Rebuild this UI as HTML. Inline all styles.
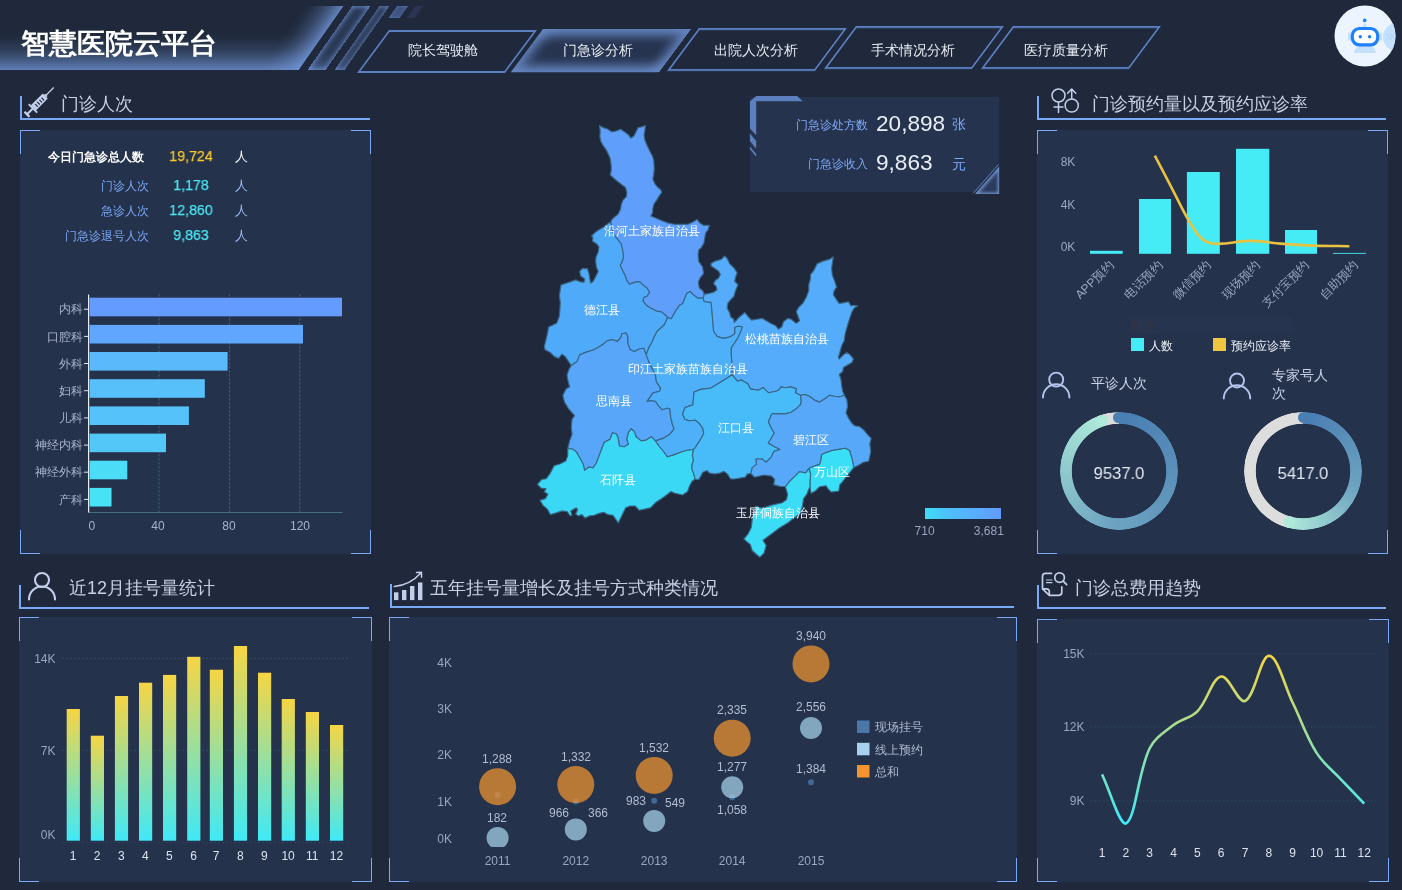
<!DOCTYPE html>
<html lang="zh"><head><meta charset="utf-8"><title>智慧医院云平台</title>
<style>
*{box-sizing:border-box;margin:0;padding:0}
html,body{width:1402px;height:890px;overflow:hidden;background:#1f293b}
body{position:relative;font-family:"Liberation Sans",sans-serif;color:#c9d1e4}
.abs{position:absolute}
.hbar{position:absolute;left:-60px;top:6px;width:381px;height:64px;transform:skewX(-35.1deg);
 background:linear-gradient(to top,rgba(110,146,212,.82) 0,rgba(110,146,212,.47) 10px,rgba(110,146,212,.2) 20px,rgba(110,146,212,.05) 30px,rgba(110,146,212,0) 36px),
 linear-gradient(to left,rgba(110,146,212,.86) 0,rgba(110,146,212,.55) 9px,rgba(110,146,212,.26) 20px,rgba(110,146,212,.07) 31px,rgba(110,146,212,0) 40px)}
.hstripe{position:absolute;top:6px;height:64px;transform:skewX(-35.1deg)}
.title{position:absolute;left:21px;top:23.5px;font-size:28px;font-weight:bold;color:#fff;letter-spacing:0px;line-height:40px;white-space:nowrap}
.tab{position:absolute;width:148px;height:43px;transform:skewX(-36.6deg);border:2px solid #5b80c4}
.tab.on{border:none;box-shadow:inset 0 0 12px 6px rgba(108,142,206,.95);background:#273450}
.tabt{position:absolute;width:148px;height:43px;line-height:43px;text-align:center;font-size:14px;color:#e6ebf3;white-space:nowrap}
.stitle{position:absolute;height:24px;border-left:2px solid #7aa9f7;border-bottom:2px solid #7aa9f7}
.stitle span{position:absolute;top:-4px;font-size:18px;line-height:24px;color:#c6cfe4;white-space:nowrap}
.panel{position:absolute;background:
 linear-gradient(#7aa9f7,#7aa9f7) left top/20px 1.2px no-repeat,linear-gradient(#7aa9f7,#7aa9f7) left top/1.2px 24px no-repeat,
 linear-gradient(#7aa9f7,#7aa9f7) right top/20px 1.2px no-repeat,linear-gradient(#7aa9f7,#7aa9f7) right top/1.2px 24px no-repeat,
 linear-gradient(#7aa9f7,#7aa9f7) left bottom/20px 1.2px no-repeat,linear-gradient(#7aa9f7,#7aa9f7) left bottom/1.2px 24px no-repeat,
 linear-gradient(#7aa9f7,#7aa9f7) right bottom/20px 1.2px no-repeat,linear-gradient(#7aa9f7,#7aa9f7) right bottom/1.2px 24px no-repeat,
 #24324c}
.kv{position:absolute;white-space:nowrap;font-size:12px;line-height:16px}
svg text{font-family:"Liberation Sans",sans-serif}
.title,.tabt,.stitle span,.kv,.gs{will-change:transform}
</style></head>
<body>
<div class="hbar"></div>
<div class="hstripe" style="left:330.3px;width:18.2px;box-shadow:inset 0 0 5px 1px rgba(112,148,214,.9),inset 0 -14px 14px -8px rgba(112,148,214,.45);background:rgba(70,95,145,.28)"></div>
<div class="hstripe" style="left:357px;width:10px;box-shadow:inset 0 0 4px 1px rgba(112,148,214,.7),inset 0 -14px 14px -8px rgba(112,148,214,.35);background:rgba(70,95,145,.22)"></div>
<div class="hstripe" style="left:392.5px;width:10.5px;height:11.5px;background:#3f5380;box-shadow:inset 0 0 3px rgba(112,148,214,.6)"></div>
<div class="hstripe" style="left:410.5px;width:7.5px;height:11.5px;background:#2a3651"></div>
<div class="title">智慧医院云平台</div>
<div class="tab" style="left:372.7px;top:29.5px"></div>
<div class="tabt" style="left:368.7px;top:28.9px">院长驾驶舱</div>
<div class="tab on" style="left:526.5px;top:29.0px"></div>
<div class="tabt" style="left:524.3px;top:28.9px">门急诊分析</div>
<div class="tab" style="left:682.7px;top:28.2px"></div>
<div class="tabt" style="left:681.9px;top:28.9px">出院人次分析</div>
<div class="tab" style="left:840.0px;top:26.4px"></div>
<div class="tabt" style="left:839.2px;top:28.9px">手术情况分析</div>
<div class="tab" style="left:996.5px;top:26.4px"></div>
<div class="tabt" style="left:991.9px;top:28.9px">医疗质量分析</div>
<svg class="abs" style="left:1330px;top:0" width="72" height="72" viewBox="1330 0 72 72">
<defs><clipPath id="rc"><circle cx="1365" cy="36" r="30.5"/></clipPath></defs>
<circle cx="1365" cy="36" r="30.5" fill="#ecf5ff"/>
<circle cx="1397" cy="37" r="14" fill="#c3e0fd" clip-path="url(#rc)"/>
<path d="M1386.5,33.5l2.8,3.2-2.8,3.2M1389.8,33.5l2.8,3.2-2.8,3.2" fill="none" stroke="#a9d0fb" stroke-width="1"/>
<path d="M1354,53c0.5-4 3-7 6-7h10c3,0 5.5,3 6,7z" fill="#c3e0fd"/>
<rect x="1347.8" y="32.5" width="4" height="8" rx="1.5" fill="#c3e0fd"/><rect x="1378.2" y="32.5" width="4" height="8" rx="1.5" fill="#c3e0fd"/>
<path d="M1362.5,27l1.5-4h1.4l1.5,4z" fill="#c3e0fd"/>
<rect x="1352.3" y="28.5" width="25.4" height="16.3" rx="7" fill="#fff" stroke="#1e80ff" stroke-width="3.2"/>
<circle cx="1360.3" cy="36.7" r="1.7" fill="#1e80ff"/><circle cx="1369.6" cy="36.7" r="1.7" fill="#1e80ff"/>
<circle cx="1364.7" cy="20.4" r="1.8" fill="#1e80ff"/>
</svg>
<div class="stitle" style="left:20px;top:96px;width:349.5px"><span style="left:39px;top:-4px">门诊人次</span></div>
<div class="stitle" style="left:1037px;top:96px;width:349px"><span style="left:52.5px;top:-4px">门诊预约量以及预约应诊率</span></div>
<div class="stitle" style="left:19px;top:585px;width:350px"><span style="left:48px;top:-8.7px">近12月挂号量统计</span></div>
<div class="stitle" style="left:390px;top:584px;width:624px"><span style="left:38px;top:-8.5px">五年挂号量增长及挂号方式种类情况</span></div>
<div class="stitle" style="left:1037px;top:585px;width:349px"><span style="left:35.5px;top:-8.7px">门诊总费用趋势</span></div>
<div class="panel" style="left:20px;top:130px;width:351.2px;height:424px"></div>
<div class="panel" style="left:1037px;top:130px;width:351.2px;height:424px"></div>
<div class="panel" style="left:19px;top:617.4px;width:353px;height:264.6px"></div>
<div class="panel" style="left:389px;top:617px;width:628px;height:265px"></div>
<div class="panel" style="left:1037px;top:619px;width:352px;height:263px"></div>
<div class="abs" style="left:750px;top:96.6px;width:249px;height:95.6px;background:#25334e"></div>
<div class="kv" style="right:1258px;top:148.5px;color:#fff;font-weight:bold;">今日门急诊总人数</div>
<div class="kv" style="left:141px;width:100px;text-align:center;top:148px;color:#fac92c;font-size:15.2px;transform:scaleX(.936);-webkit-text-stroke:.25px #fac92c">19,724</div>
<div class="kv" style="left:235px;top:148.5px;color:#fff;font-size:12.5px">人</div>
<div class="kv" style="right:1253px;top:177.5px;color:#79a7f6;">门诊人次</div>
<div class="kv" style="left:141px;width:100px;text-align:center;top:177px;color:#4be6f2;font-size:15.2px;transform:scaleX(.936);-webkit-text-stroke:.25px #4be6f2">1,178</div>
<div class="kv" style="left:235px;top:177.5px;color:#9dbdf6;font-size:12.5px">人</div>
<div class="kv" style="right:1253px;top:202.5px;color:#79a7f6;">急诊人次</div>
<div class="kv" style="left:141px;width:100px;text-align:center;top:202px;color:#4be6f2;font-size:15.2px;transform:scaleX(.936);-webkit-text-stroke:.25px #4be6f2">12,860</div>
<div class="kv" style="left:235px;top:202.5px;color:#9dbdf6;font-size:12.5px">人</div>
<div class="kv" style="right:1253px;top:227.5px;color:#79a7f6;">门急诊退号人次</div>
<div class="kv" style="left:141px;width:100px;text-align:center;top:227px;color:#4be6f2;font-size:15.2px;transform:scaleX(.936);-webkit-text-stroke:.25px #4be6f2">9,863</div>
<div class="kv" style="left:235px;top:227.5px;color:#9dbdf6;font-size:12.5px">人</div>
<svg class="abs" style="left:0;top:0" width="1402" height="890" viewBox="0 0 1402 890">
<defs>
<linearGradient id="gbar" x1="0" y1="0" x2="0" y2="1"><stop offset="0" stop-color="#f6d543"/><stop offset="1" stop-color="#3fe9f7"/></linearGradient>
<linearGradient id="gline" gradientUnits="userSpaceOnUse" x1="0" y1="655" x2="0" y2="824"><stop offset="0" stop-color="#f6d543"/><stop offset="1" stop-color="#3fe9f7"/></linearGradient>
<linearGradient id="gleg" x1="0" y1="0" x2="1" y2="0"><stop offset="0" stop-color="#3ddef6"/><stop offset="0.3" stop-color="#4cc0f9"/><stop offset="1" stop-color="#639bff"/></linearGradient>
</defs>
<g transform="translate(39.7,101.6) rotate(45)" fill="#c3cfea" stroke="none"><rect x="-0.7" y="-19.8" width="1.4" height="11"/><rect x="-1.6" y="-9.6" width="3.2" height="2"/><rect x="-3.6" y="-8" width="7.2" height="17" rx="0.8"/><rect x="-6" y="8.6" width="12" height="1.9"/><rect x="-1" y="10" width="2" height="7.5"/><rect x="-3.6" y="16.8" width="7.2" height="2.3" rx="0.6"/><g fill="#1f293b"><rect x="-1.4" y="-4.6" width="3.6" height="1.1"/><rect x="-1.4" y="-1.6" width="3.6" height="1.1"/><rect x="-1.4" y="1.4" width="3.6" height="1.1"/><rect x="-1.4" y="4.4" width="3.6" height="1.1"/></g></g>
<g fill="none" stroke="#c3cfea" stroke-width="1.5" stroke-linecap="round" stroke-linejoin="round"><circle cx="1058.5" cy="95.5" r="6.5"/><path d="M1058.5,102v10.5M1054,107h9"/><circle cx="1071.7" cy="105.5" r="6.6"/><path d="M1071.7,98.9v-9.6M1067.6,93.3l4.1-4.2 4.1,4.2"/></g>
<g fill="none" stroke="#c3cfea" stroke-width="2.1" stroke-linecap="round"><circle cx="42" cy="580" r="7"/><path d="M29,599.5 a13,13 0 0 1 26,0"/></g>
<g fill="#c3cfea"><rect x="394" y="592.3" width="4.4" height="7.8"/><rect x="402" y="590" width="4.4" height="10.1"/><rect x="410" y="586" width="4.4" height="14.1"/><rect x="418" y="582.5" width="4.4" height="17.6"/></g><path d="M394.3,586.5c10,-1 19,-5 26.5,-13.5M416.5,572.6l5,-0.3 0,5" fill="none" stroke="#c3cfea" stroke-width="1.5" stroke-linecap="round" stroke-linejoin="round"/>
<g fill="none" stroke="#c3cfea" stroke-width="1.7" stroke-linecap="round" stroke-linejoin="round"><path d="M1051.5,573.3h-6a3,3 0 0 0 -3,3v12.5l6.8,6.5h9.5a3,3 0 0 0 3,-3v-5.5M1042.5,588.8h4a2.8,2.8 0 0 1 2.8,2.8v3.7"/><path d="M1046.5,580h5.5M1046.5,582.6h5.5" stroke-width="1.2"/><circle cx="1059.6" cy="577.6" r="4.8"/><path d="M1063.2,581.2l3.4,3.4"/></g>
<g stroke="#4a7f86" stroke-width="1" stroke-dasharray="2,2" opacity=".8"><line x1="159" y1="294.5" x2="159" y2="512"/><line x1="229.4" y1="294.5" x2="229.4" y2="512"/><line x1="299.8" y1="294.5" x2="299.8" y2="512"/></g>
<line x1="88.6" y1="512.5" x2="342.7" y2="512.5" stroke="#466f7c" stroke-width="1"/>
<rect x="89.6" y="297.7" width="252.4" height="18.6" fill="#639bff"/>
<line x1="84" y1="309.2" x2="88.6" y2="309.2" stroke="#dfe4ee" stroke-width="1"/>
<text x="82.5" y="313.4" text-anchor="end" font-size="12" fill="#a9b4cb">内科</text>
<rect x="89.6" y="324.9" width="213.4" height="18.6" fill="#60a5fe"/>
<line x1="84" y1="336.4" x2="88.6" y2="336.4" stroke="#dfe4ee" stroke-width="1"/>
<text x="82.5" y="340.6" text-anchor="end" font-size="12" fill="#a9b4cb">口腔科</text>
<rect x="89.6" y="352.0" width="138.0" height="18.6" fill="#59b9fa"/>
<line x1="84" y1="363.5" x2="88.6" y2="363.5" stroke="#dfe4ee" stroke-width="1"/>
<text x="82.5" y="367.7" text-anchor="end" font-size="12" fill="#a9b4cb">外科</text>
<rect x="89.6" y="379.2" width="115.2" height="18.6" fill="#57bff9"/>
<line x1="84" y1="390.7" x2="88.6" y2="390.7" stroke="#dfe4ee" stroke-width="1"/>
<text x="82.5" y="394.9" text-anchor="end" font-size="12" fill="#a9b4cb">妇科</text>
<rect x="89.6" y="406.4" width="99.3" height="18.6" fill="#55c3f9"/>
<line x1="84" y1="417.9" x2="88.6" y2="417.9" stroke="#dfe4ee" stroke-width="1"/>
<text x="82.5" y="422.1" text-anchor="end" font-size="12" fill="#a9b4cb">儿科</text>
<rect x="89.6" y="433.6" width="76.4" height="18.6" fill="#53c8f8"/>
<line x1="84" y1="445.1" x2="88.6" y2="445.1" stroke="#dfe4ee" stroke-width="1"/>
<text x="82.5" y="449.3" text-anchor="end" font-size="12" fill="#a9b4cb">神经内科</text>
<rect x="89.6" y="460.7" width="37.7" height="18.6" fill="#4bdcf7"/>
<line x1="84" y1="472.2" x2="88.6" y2="472.2" stroke="#dfe4ee" stroke-width="1"/>
<text x="82.5" y="476.4" text-anchor="end" font-size="12" fill="#a9b4cb">神经外科</text>
<rect x="89.6" y="487.9" width="21.9" height="18.6" fill="#48e2f6"/>
<line x1="84" y1="499.4" x2="88.6" y2="499.4" stroke="#dfe4ee" stroke-width="1"/>
<text x="82.5" y="503.6" text-anchor="end" font-size="12" fill="#a9b4cb">产科</text>
<line x1="88.6" y1="294.5" x2="88.6" y2="512.5" stroke="#e8ecf3" stroke-width="1.2"/>
<text x="91.8" y="530.3" text-anchor="middle" font-size="12" fill="#a9b4cb">0</text>
<text x="158" y="530.3" text-anchor="middle" font-size="12" fill="#a9b4cb">40</text>
<text x="229" y="530.3" text-anchor="middle" font-size="12" fill="#a9b4cb">80</text>
<text x="300" y="530.3" text-anchor="middle" font-size="12" fill="#a9b4cb">120</text>
<text x="1068" y="165.8" text-anchor="middle" font-size="12" fill="#9ba6c0">8K</text>
<text x="1068" y="209.1" text-anchor="middle" font-size="12" fill="#9ba6c0">4K</text>
<text x="1068" y="251.3" text-anchor="middle" font-size="12" fill="#9ba6c0">0K</text>
<rect x="1090" y="250.8" width="32.7" height="3" fill="#45ecf6"/>
<rect x="1139" y="199" width="32" height="54.8" fill="#45ecf6"/>
<rect x="1186.9" y="172" width="32.9" height="81.8" fill="#45ecf6"/>
<rect x="1236" y="148.8" width="33.3" height="105" fill="#45ecf6"/>
<rect x="1285" y="230" width="32" height="23.8" fill="#45ecf6"/>
<rect x="1333" y="252.9" width="33" height="0.9" fill="#45ecf6"/>
<path d="M1154.8,155.6 C1162.2,169.7 1165.8,176.7 1173.2,190.8 C1179.7,203.2 1182.3,209.9 1189.5,221.8 C1194.0,229.2 1196.1,233.9 1202.5,239.2 C1206.7,242.7 1210.4,243.6 1216.0,243.8 C1229.3,244.3 1236.3,240.9 1249.8,240.9 C1262.2,240.9 1268.4,242.7 1280.8,243.6 C1293.8,244.6 1300.3,245.1 1313.4,245.6 C1327.8,246.1 1335.0,246.0 1349.4,246.2" fill="none" stroke="#e9c242" stroke-width="2.6" stroke-linecap="butt"/>
<text transform="translate(1108.5,260) rotate(-45)" text-anchor="end" font-size="12" fill="#9ba6c0" y="8">APP预约</text>
<text transform="translate(1157.5,260) rotate(-45)" text-anchor="end" font-size="12" fill="#9ba6c0" y="8">电话预约</text>
<text transform="translate(1206,260) rotate(-45)" text-anchor="end" font-size="12" fill="#9ba6c0" y="8">微信预约</text>
<text transform="translate(1255,260) rotate(-45)" text-anchor="end" font-size="12" fill="#9ba6c0" y="8">现场预约</text>
<text transform="translate(1304,260) rotate(-45)" text-anchor="end" font-size="12" fill="#9ba6c0" y="8">支付宝预约</text>
<text transform="translate(1353,260) rotate(-45)" text-anchor="end" font-size="12" fill="#9ba6c0" y="8">自助预约</text>
<rect x="1129.2" y="316.3" width="163.6" height="17.5" fill="#27344f"/><text x="1130.5" y="329.8" font-size="11.5" fill="#35363f">颜色</text>
<rect x="1131" y="338" width="13" height="13" fill="#45ecf6"/><text x="1149" y="349.8" font-size="12" fill="#eef0f5">人数</text>
<rect x="1213" y="338" width="13" height="13" fill="#efc73f"/><text x="1231" y="349.8" font-size="12" fill="#eef0f5">预约应诊率</text>
<g fill="none" stroke="#b4c4ea" stroke-width="1.9" stroke-linecap="round"><circle cx="1056.2" cy="379.6" r="7"/><path d="M1043,397.5 a13.2,13.2 0 0 1 26.4,0"/></g>
<g fill="none" stroke="#b4c4ea" stroke-width="1.9" stroke-linecap="round"><circle cx="1237" cy="380.5" r="7"/><path d="M1223.8,398.5 a13.2,13.2 0 0 1 26.4,0"/></g>
<text x="1091" y="388" font-size="14" fill="#c9d1e4">平诊人次</text>
<text x="1272" y="380" font-size="14" fill="#c9d1e4">专家号人</text><text x="1272" y="398" font-size="14" fill="#c9d1e4">次</text>
</svg>
<svg class="abs" style="left:0;top:0" width="1402" height="890" viewBox="0 0 1402 890">
<line x1="62" y1="658.3" x2="348" y2="658.3" stroke="#3b5a70" stroke-width="1" stroke-dasharray="2,2" opacity=".7"/>
<line x1="62" y1="750.3" x2="348" y2="750.3" stroke="#3b5a70" stroke-width="1" stroke-dasharray="2,2" opacity=".7"/>
<line x1="62" y1="842.5" x2="348" y2="842.5" stroke="#2f4560" stroke-width="1" stroke-dasharray="2,2" opacity=".7"/>
<text x="55.5" y="662.9" text-anchor="end" font-size="12" fill="#9ba6c0">14K</text>
<text x="55.5" y="755.3" text-anchor="end" font-size="12" fill="#9ba6c0">7K</text>
<text x="55.5" y="838.7" text-anchor="end" font-size="12" fill="#9ba6c0">0K</text>
<rect x="66.7" y="709" width="13.2" height="131.7" fill="url(#gbar)"/>
<text x="73.1" y="859.8" text-anchor="middle" font-size="12" fill="#dde2ec">1</text>
<rect x="90.8" y="735.7" width="13.2" height="105" fill="url(#gbar)"/>
<text x="97.2" y="859.8" text-anchor="middle" font-size="12" fill="#dde2ec">2</text>
<rect x="114.9" y="696" width="13.2" height="144.7" fill="url(#gbar)"/>
<text x="121.3" y="859.8" text-anchor="middle" font-size="12" fill="#dde2ec">3</text>
<rect x="139" y="682.7" width="13.2" height="158" fill="url(#gbar)"/>
<text x="145.4" y="859.8" text-anchor="middle" font-size="12" fill="#dde2ec">4</text>
<rect x="163" y="674.9" width="13.2" height="165.8" fill="url(#gbar)"/>
<text x="169.4" y="859.8" text-anchor="middle" font-size="12" fill="#dde2ec">5</text>
<rect x="187.2" y="656.8" width="13.2" height="183.9" fill="url(#gbar)"/>
<text x="193.6" y="859.8" text-anchor="middle" font-size="12" fill="#dde2ec">6</text>
<rect x="209.8" y="669.7" width="13.2" height="171" fill="url(#gbar)"/>
<text x="216.2" y="859.8" text-anchor="middle" font-size="12" fill="#dde2ec">7</text>
<rect x="233.9" y="646" width="13.2" height="194.7" fill="url(#gbar)"/>
<text x="240.3" y="859.8" text-anchor="middle" font-size="12" fill="#dde2ec">8</text>
<rect x="258" y="672.7" width="13.2" height="168" fill="url(#gbar)"/>
<text x="264.4" y="859.8" text-anchor="middle" font-size="12" fill="#dde2ec">9</text>
<rect x="281.7" y="699" width="13.2" height="141.7" fill="url(#gbar)"/>
<text x="288.1" y="859.8" text-anchor="middle" font-size="12" fill="#dde2ec">10</text>
<rect x="305.8" y="712" width="13.2" height="128.7" fill="url(#gbar)"/>
<text x="312.2" y="859.8" text-anchor="middle" font-size="12" fill="#dde2ec">11</text>
<rect x="330" y="725" width="13.2" height="115.7" fill="url(#gbar)"/>
<text x="336.4" y="859.8" text-anchor="middle" font-size="12" fill="#dde2ec">12</text>
<text x="452" y="667.2" text-anchor="end" font-size="12" fill="#9ba6c0">4K</text>
<text x="452" y="713.1" text-anchor="end" font-size="12" fill="#9ba6c0">3K</text>
<text x="452" y="759" text-anchor="end" font-size="12" fill="#9ba6c0">2K</text>
<text x="452" y="805.8" text-anchor="end" font-size="12" fill="#9ba6c0">1K</text>
<text x="452" y="843" text-anchor="end" font-size="12" fill="#9ba6c0">0K</text>
<defs><clipPath id="bc"><rect x="460" y="620" width="400" height="227"/></clipPath></defs>
<g clip-path="url(#bc)">
<circle cx="497.6" cy="795.1" r="3" fill="#4a76a8" opacity=".8"/>
<circle cx="497.6" cy="837.9" r="11" fill="#a8d2ec" opacity=".72"/>
<circle cx="497.6" cy="786.7" r="18.5" fill="#f3942e" opacity=".72"/>
<circle cx="575.8" cy="801.6" r="3" fill="#4a76a8" opacity=".8"/>
<circle cx="575.8" cy="829.4" r="11" fill="#a8d2ec" opacity=".72"/>
<circle cx="575.8" cy="784.6" r="18.5" fill="#f3942e" opacity=".72"/>
<circle cx="654.2" cy="800.8" r="3" fill="#4a76a8" opacity=".8"/>
<circle cx="654.2" cy="820.9" r="11" fill="#a8d2ec" opacity=".72"/>
<circle cx="654.2" cy="775.4" r="18.5" fill="#f3942e" opacity=".72"/>
<circle cx="732.2" cy="797.3" r="3" fill="#4a76a8" opacity=".8"/>
<circle cx="732.2" cy="787.2" r="11" fill="#a8d2ec" opacity=".72"/>
<circle cx="732.2" cy="738.2" r="18.5" fill="#f3942e" opacity=".72"/>
<circle cx="811" cy="782.2" r="3" fill="#4a76a8" opacity=".8"/>
<circle cx="811" cy="728.0" r="11" fill="#a8d2ec" opacity=".72"/>
<circle cx="811" cy="663.9" r="18.5" fill="#f3942e" opacity=".72"/>
</g>
<text x="497" y="762.7" text-anchor="middle" font-size="12" fill="#b3bcd0">1,288</text>
<text x="497" y="822.1" text-anchor="middle" font-size="12" fill="#b3bcd0">182</text>
<text x="576" y="760.9" text-anchor="middle" font-size="12" fill="#b3bcd0">1,332</text>
<text x="559" y="817" text-anchor="middle" font-size="12" fill="#b3bcd0">966</text>
<text x="598" y="816.6" text-anchor="middle" font-size="12" fill="#b3bcd0">366</text>
<text x="654" y="752.1" text-anchor="middle" font-size="12" fill="#b3bcd0">1,532</text>
<text x="636" y="805.3" text-anchor="middle" font-size="12" fill="#b3bcd0">983</text>
<text x="675" y="806.8" text-anchor="middle" font-size="12" fill="#b3bcd0">549</text>
<text x="732" y="714" text-anchor="middle" font-size="12" fill="#b3bcd0">2,335</text>
<text x="732" y="771.1" text-anchor="middle" font-size="12" fill="#b3bcd0">1,277</text>
<text x="732" y="814.2" text-anchor="middle" font-size="12" fill="#b3bcd0">1,058</text>
<text x="811" y="639.9" text-anchor="middle" font-size="12" fill="#b3bcd0">3,940</text>
<text x="811" y="711.3" text-anchor="middle" font-size="12" fill="#b3bcd0">2,556</text>
<text x="811" y="773.3" text-anchor="middle" font-size="12" fill="#b3bcd0">1,384</text>
<text x="497.6" y="864.7" text-anchor="middle" font-size="12" fill="#9ba6c0">2011</text>
<text x="575.8" y="864.7" text-anchor="middle" font-size="12" fill="#9ba6c0">2012</text>
<text x="654.2" y="864.7" text-anchor="middle" font-size="12" fill="#9ba6c0">2013</text>
<text x="732.2" y="864.7" text-anchor="middle" font-size="12" fill="#9ba6c0">2014</text>
<text x="811" y="864.7" text-anchor="middle" font-size="12" fill="#9ba6c0">2015</text>
<rect x="857" y="720.5" width="12.5" height="12.5" fill="#4a76a8"/><text x="875" y="731.3" font-size="12" fill="#b3bcd0">现场挂号</text>
<rect x="857" y="742.8" width="12.5" height="12.5" fill="#a8d2ec"/><text x="875" y="753.6" font-size="12" fill="#b3bcd0">线上预约</text>
<rect x="857" y="765" width="12.5" height="12.5" fill="#f3942e"/><text x="875" y="775.8" font-size="12" fill="#b3bcd0">总和</text>
<text x="1084.5" y="658.1" text-anchor="end" font-size="12" fill="#9ba6c0">15K</text>
<line x1="1090.5" y1="653.8" x2="1377" y2="653.8" stroke="#3b5a70" stroke-width="1" stroke-dasharray="2,2" opacity=".6"/>
<text x="1084.5" y="731.2" text-anchor="end" font-size="12" fill="#9ba6c0">12K</text>
<line x1="1090.5" y1="726.9" x2="1377" y2="726.9" stroke="#3b5a70" stroke-width="1" stroke-dasharray="2,2" opacity=".6"/>
<text x="1084.5" y="805.3" text-anchor="end" font-size="12" fill="#9ba6c0">9K</text>
<line x1="1090.5" y1="801" x2="1377" y2="801" stroke="#3b5a70" stroke-width="1" stroke-dasharray="2,2" opacity=".6"/>
<path d="M1102.0,774.4 C1110.6,792.1 1118.8,823.7 1125.8,823.7 C1136.0,818.1 1137.6,773.3 1149.7,748.3 C1154.8,737.8 1164.1,732.3 1173.5,725.0 C1181.3,719.0 1190.6,718.2 1197.4,711.3 C1207.8,700.7 1211.7,678.5 1221.2,676.5 C1228.9,674.8 1238.2,704.0 1245.0,701.0 C1255.3,696.5 1260.4,655.7 1268.9,655.7 C1277.6,656.0 1284.4,685.7 1292.7,702.8 C1301.5,720.7 1306.1,736.2 1316.6,752.9 C1323.2,763.5 1331.7,769.6 1340.4,778.8 C1348.9,787.8 1355.7,794.7 1364.2,803.7" fill="none" stroke="url(#gline)" stroke-width="2.6"/>
<text x="1102.0" y="857.3" text-anchor="middle" font-size="12" fill="#dde2ec">1</text>
<text x="1125.8" y="857.3" text-anchor="middle" font-size="12" fill="#dde2ec">2</text>
<text x="1149.7" y="857.3" text-anchor="middle" font-size="12" fill="#dde2ec">3</text>
<text x="1173.5" y="857.3" text-anchor="middle" font-size="12" fill="#dde2ec">4</text>
<text x="1197.4" y="857.3" text-anchor="middle" font-size="12" fill="#dde2ec">5</text>
<text x="1221.2" y="857.3" text-anchor="middle" font-size="12" fill="#dde2ec">6</text>
<text x="1245.0" y="857.3" text-anchor="middle" font-size="12" fill="#dde2ec">7</text>
<text x="1268.9" y="857.3" text-anchor="middle" font-size="12" fill="#dde2ec">8</text>
<text x="1292.7" y="857.3" text-anchor="middle" font-size="12" fill="#dde2ec">9</text>
<text x="1316.6" y="857.3" text-anchor="middle" font-size="12" fill="#dde2ec">10</text>
<text x="1340.4" y="857.3" text-anchor="middle" font-size="12" fill="#dde2ec">11</text>
<text x="1364.2" y="857.3" text-anchor="middle" font-size="12" fill="#dde2ec">12</text>
<g stroke="#3a6786" stroke-width="1.15" stroke-linejoin="round">
<polygon points="610.8,223.4 611.2,220.3 613.7,217.8 617.9,214.4 620.5,209.4 621.3,204.3 623,200.1 626.4,196.7 626.9,192.5 625.5,187.5 622.1,184.9 617.9,181.6 613.7,178.2 610.3,174.8 611.2,170.6 611.2,165.6 610.3,158.8 607.8,152.9 606.1,149.6 603.6,146.2 601.1,142 599.9,136.9 600.2,130.2 599.4,125.5 602.8,127.6 607,128.8 612,131.9 616.2,131 620.5,129.3 624.7,131.9 628.9,135.2 630.6,138.3 633.9,136.1 636.5,131 638.1,127.6 642.4,126.8 645.4,125.5 644.9,130.2 644,135.2 644.9,140.3 647.4,146.2 649.9,151.2 652.5,156.3 653.8,160.5 654.2,168.9 653.8,174 652.8,179 655,184.1 657.9,187.5 660.9,190 661.7,192.5 659.2,195.9 656.7,200.1 654.2,203.5 652.8,208.5 652.5,212.8 650.8,216.1 655,217.8 660.9,220.3 667.6,222.9 674.4,224.2 681.1,224.2 687.9,224.2 692.9,222 697.1,219.5 699.7,222.9 703.9,225.4 709.4,225.4 708.1,229.6 705.6,233 704.7,238 703.9,243.1 701.4,247.3 698.8,249.8 698,254.9 698.8,261.6 702.6,267 703.5,273.7 700.1,277.9 698.4,282.1 699.3,288 702.6,290.6 704.3,294.3 703.1,298.1 697.6,298.1 693.4,294.8 690.1,291.5 686.7,293.5 684.7,298.2 682.7,303.6 679.3,305.6 676,310.3 673.3,315.1 671.2,318.8 667.6,317.5 665.6,315.3 661.4,311.9 656.4,311.1 651.3,308.5 646.2,305.2 642.9,301 643.7,297.6 647.1,295.9 649.6,292.5 647.1,288.3 642.9,284.9 639.5,281.6 634.4,282.4 629.4,284.1 626.9,280.7 625.2,275.7 622.6,270.6 620.1,265.6 621.8,262.2 623.5,257.1 622.6,250.4 621,243.7 617.6,239.4 614.2,235.2 612.5,230.2" fill="#5f9efb"/>
<polygon points="571.2,365.5 565.3,356.6 562,354.1 558.6,358.3 554.4,356.6 550.2,352.4 545.1,349.8 544.3,346.5 546,339.7 547.6,333 548.5,327.1 551.9,325.4 556.9,322.9 559.4,316.1 559.9,309.4 560.3,302.6 559.4,295.9 560.3,289.2 561.1,284.9 566.2,283.3 571.2,281.6 575.5,279.9 579.7,281.6 583.9,282.4 584.7,279 580.5,275.7 579.7,271.5 582.2,268.6 587.3,268.6 588.9,273.1 589.8,279 590.6,283.3 593.1,281.6 595.7,276.5 598.2,271.5 596.5,267.3 595.7,262.2 596,257.1 598.2,252.1 599,247 596.5,243.7 592.3,241.1 593.1,237.8 591.5,236.1 595.7,231.9 599.9,229.3 604.1,226.8 609.2,222.6 610.8,223.4 612.5,230.2 614.2,235.2 617.6,239.4 621,243.7 622.6,250.4 623.5,257.1 621.8,262.2 620.1,265.6 622.6,270.6 625.2,275.7 626.9,280.7 629.4,284.1 634.4,282.4 639.5,281.6 642.9,284.9 647.1,288.3 649.6,292.5 647.1,295.9 643.7,297.6 642.9,301 646.2,305.2 651.3,308.5 656.4,311.1 661.4,311.9 665.6,315.3 667.6,317.5 664.5,324.5 660.4,328.5 657.1,331.2 654.4,336.6 651.7,342.7 649,347.4 646.2,354.9 643.7,348.2 639.5,349 634.4,351.5 630.2,349.8 627.7,343.1 627.7,336.4 626,333 621.8,333.8 621,337.2 617.6,341.4 612.5,339.7 607.5,340.6 602.4,344.8 594,349.8 585.6,352.4 579.7,354.9 577.1,361.6" fill="#4faaf9"/>
<polygon points="571.2,365.5 577.1,361.6 579.7,354.9 585.6,352.4 594,349.8 602.4,344.8 607.5,340.6 612.5,339.7 617.6,341.4 621,337.2 621.8,333.8 626,333 627.7,336.4 627.7,343.1 630.2,349.8 634.4,351.5 639.5,349 643.7,348.2 646.2,354.9 649.6,363.4 653,370.1 655.5,375.2 656.4,381.9 660.6,387.8 659.7,391.2 653,392.9 649.6,397.9 647.1,401.3 651.3,400.5 655.5,401.3 658.9,406.4 662.3,409.7 667.3,408 669.8,408.9 670.7,417.3 672.4,424 674.1,429.1 669.8,434.2 663.1,438.4 655.5,440.9 651.3,436.7 646.2,440.1 641.2,440.9 636.1,436.7 634.4,431.6 631.1,428.8 628.5,432.5 626.9,439.2 628.5,444.3 624.3,446.8 619.3,446 618.4,439.2 616.7,434.2 612.5,432.8 610,439.2 604.1,442.6 601.6,449.3 599,456.1 596.5,462.8 593.1,467.9 588.9,467 584.7,470.4 583,463.7 579.7,457.8 576.3,451.9 572.9,449.3 567.8,448.5 569.6,440.9 572.1,434.2 571.2,427.4 572.1,419 574.6,415.6 568.7,408.9 564.5,402.1 562.8,395.4 566.2,388.7 569.6,387 567.9,380.2 567,375.2 568.7,370.1" fill="#57a6f9"/>
<polygon points="567.8,448.5 572.9,449.3 576.3,451.9 579.7,457.8 583,463.7 584.7,470.4 588.9,467 593.1,467.9 596.5,462.8 599,456.1 601.6,449.3 604.1,442.6 610,439.2 612.5,432.8 616.7,434.2 618.4,439.2 619.3,446 624.3,446.8 628.5,444.3 626.9,439.2 628.5,432.5 631.1,428.8 634.4,431.6 636.1,436.7 641.2,440.9 646.2,440.1 651.3,436.7 655.5,440.9 659.8,447 664,452 667.4,456.7 674.2,454.6 680.9,452 687.6,450 693.5,449.5 692.4,455.4 693.5,460.5 691.9,464.7 691.9,468.9 693.5,473.1 695.2,479 691.9,481.5 689.3,486.6 687.6,491.6 682.6,495 679.2,494.2 675,493.3 670.8,491.6 666.6,495 660.7,499.2 655.6,502.6 650.5,507.8 644.9,509.1 639.3,510.3 635,506 630.1,506 625.7,507.8 622,515.2 618.3,522.9 612.8,515.2 607.8,514.6 603.5,512.2 599.2,513.4 594.2,515.2 589.3,515.9 585,518 581.9,514.6 578.2,515.9 575.7,514 577.6,509.7 576.3,507.8 570.8,510.9 572,515.2 570.2,515.9 567.1,511.5 562.1,510.9 556.6,512.8 550.4,514.6 547.3,509.1 543,505.4 539.9,500.4 545.4,498.6 547.9,494.2 544.2,491.8 546.1,488.7 541.1,488.1 537.4,484.4 541.7,479.4 546.1,478.8 549.8,473.9 554.1,465.8 559.7,464 565.8,460.9 567.7,455.9" fill="#3ad8f5"/>
<polygon points="646.2,354.9 649,347.4 651.7,342.7 654.4,336.6 657.1,331.2 660.4,328.5 664.5,324.5 667.6,317.5 671.2,318.8 673.3,315.1 676,310.3 679.3,305.6 682.7,303.6 684.7,298.2 686.7,293.5 690.1,291.5 693.4,294.8 697.6,298.1 703.1,298.1 704.3,301.5 711.1,302.4 711.9,310.8 712.8,320.9 713.6,331 717,336.1 721.2,337.8 726.2,337.8 731.3,336.1 734.7,333.5 734.7,327.6 738,326 742.3,326.8 740.6,331.9 738,337.8 734.7,342.8 731.3,347.9 731.3,354.6 731.8,361.4 732.1,368.1 732.1,374.8 721.2,381.7 710.9,388.1 700.6,389.4 694.1,392 692.8,404.9 685.1,407.5 682.5,414 685.1,419.2 689.3,420.8 695.2,420 699.4,423.4 702.8,428.4 703.7,433.5 701.1,438.5 697.8,443.6 695.2,447.8 693.5,449.5 687.6,450 680.9,452 674.2,454.6 667.4,456.7 664,452 659.8,447 655.5,440.9 663.1,438.4 669.8,434.2 674.1,429.1 672.4,424 670.7,417.3 669.8,408.9 667.3,408 662.3,409.7 658.9,406.4 655.5,401.3 651.3,400.5 647.1,401.3 649.6,397.9 653,392.9 659.7,391.2 660.6,387.8 656.4,381.9 655.5,375.2 653,370.1 649.6,363.4" fill="#4eb0f9"/>
<polygon points="704.3,294.3 708.5,293.6 713.6,292.3 717,289.7 716.1,286.4 713.6,283.8 715.3,280.5 718.7,277.9 720.3,274.6 718.7,271.2 715.3,268.7 711.1,266.1 711.1,263.6 715.3,261.1 721.2,259.4 724.6,256 727.1,258.5 729.6,263.6 733.8,267.8 737.2,272.9 735.5,277.1 734.7,281.3 738,284.7 735.5,290.6 733.8,296.5 730.5,299.8 727.9,303.2 727.1,308.3 729.6,312.5 730.5,316.7 733.8,319.2 734.2,322.6 738.9,317.5 744.8,312.5 748.1,316.7 751.5,320.1 756.6,319.2 762.5,318.4 766.7,320.9 770.9,323.4 776,326 778.5,329.3 781.9,326.8 783.5,321.7 787.8,318.4 791.1,319.2 796.2,323.4 799.6,320.9 797.9,315.8 796.2,311.6 798.7,307.4 802.9,303.2 806.3,297.3 808.8,290.6 808.8,284.7 810.5,278.8 810.5,274.6 813.9,270.3 817.3,263.6 823.2,261.1 829.1,259.4 833.3,256.9 832.4,262.8 831.6,268.7 832.4,275.4 835,282.1 836.6,287.2 834.1,290.6 833.3,294.8 836.6,299.8 839.2,303.5 844.3,302.6 848.5,301.8 851,306 853.5,305.2 857.8,306 854.4,307.7 851.9,311.9 850.2,317 848.5,322 846.8,327.9 845.1,333.8 844.3,340.6 841.7,345.6 840.1,351.5 838.4,357.4 839.2,359.1 843.4,354.9 846.8,352.4 850.2,354.9 853.5,359.1 851.9,362.5 847.6,365 843.4,367.5 842.6,371.7 839.2,374.3 840.9,379.3 841.7,386.1 842.6,391.1 844.3,395.3 839.2,397 834.2,396.2 829.9,395.3 824.9,398.7 819.8,402.1 814.8,400.4 810.6,397 805.5,394.5 800.5,395.3 795.4,392.8 796.2,388.6 790.3,386.9 785.3,387.8 781.1,386.9 778.5,390.3 774.9,391.5 768.5,392.8 763.3,387.6 758.1,390.2 750.4,388.9 747.8,383.8 741.3,379.9 737.5,381.2 732.1,374.8 732.1,368.1 731.8,361.4 731.3,354.6 731.3,347.9 734.7,342.8 738,337.8 740.6,331.9 742.3,326.8 738,326 734.7,327.6 734.7,333.5 731.3,336.1 726.2,337.8 721.2,337.8 717,336.1 713.6,331 712.8,320.9 711.9,310.8 711.1,302.4 704.3,301.5 703.1,298.1" fill="#55acfa"/>
<polygon points="732.1,374.8 737.5,381.2 741.3,379.9 747.8,383.8 750.4,388.9 758.1,390.2 763.3,387.6 768.5,392.8 774.9,391.5 778.5,390.3 781.1,386.9 785.3,387.8 790.3,386.9 796.2,388.6 795.4,392.8 800.5,395.3 801.3,400.4 800.5,404.6 796.2,408.8 791.2,412.2 785.3,413.9 778.5,413.9 771.8,413.9 770.1,418.1 768.4,421.5 771,427.4 774.3,433.3 768.3,443 773.7,446.2 780.1,449.4 773.7,451.5 771.5,456.9 766.2,462.2 761.9,459 756,459 756.6,464.4 752.3,467.6 750.8,473.5 747.5,473.9 745,477.3 739.9,478.1 734.8,479 730.6,479 727.3,473.9 723.9,471.4 719.7,473.1 714.6,473.9 709.6,473.1 707,470.6 702.8,472.3 701.1,475.6 698.6,479.8 695.2,479 693.5,473.1 691.9,468.9 691.9,464.7 693.5,460.5 692.4,455.4 693.5,449.5 695.2,447.8 697.8,443.6 701.1,438.5 703.7,433.5 702.8,428.4 699.4,423.4 695.2,420 689.3,420.8 685.1,419.2 682.5,414 685.1,407.5 692.8,404.9 694.1,392 700.6,389.4 710.9,388.1 721.2,381.7" fill="#47bcf9"/>
<polygon points="800.5,395.3 805.5,394.5 810.6,397 814.8,400.4 819.8,402.1 824.9,398.7 829.9,395.3 834.2,396.2 839.2,397 844.3,395.3 846.8,399.6 847.6,406.3 846,413 848.5,418.1 851.9,423.2 854.4,425.7 859.4,426.5 863.7,429.9 867.9,435 871.2,438.3 869.8,444.1 870.8,451.5 868.7,461.2 863.4,462.2 858,465.4 853.8,467.6 852.1,459 849.5,450.5 845.2,448.3 838.8,449.4 832.4,450.5 826,452.6 821.7,454.7 820.7,461.2 819.6,464.4 813.2,466.5 808.9,468.6 805.7,472.9 799.3,471.8 794,477.2 788.6,482.5 785.4,486.8 780.1,486.4 773.7,484.6 774.7,479.3 771.5,476.1 764.1,475 754.5,477.2 750.8,473.5 752.3,467.6 756.6,464.4 756,459 761.9,459 766.2,462.2 771.5,456.9 773.7,451.5 780.1,449.4 773.7,446.2 768.3,443 774.3,433.3 771,427.4 768.4,421.5 770.1,418.1 771.8,413.9 778.5,413.9 785.3,413.9 791.2,412.2 796.2,408.8 800.5,404.6 801.3,400.4" fill="#58a8fa"/>
<polygon points="808.9,468.6 813.2,466.5 819.6,464.4 820.7,461.2 821.7,454.7 826,452.6 832.4,450.5 838.8,449.4 845.2,448.3 849.5,450.5 852.1,459 853.8,467.6 849.5,472.9 845.2,478.2 842,482.5 839.9,484.6 838.8,491 831.3,492.1 828.1,488.9 826,485.7 819.6,486.8 815.3,491 811,493.2 810,486.8 810,480.4 810.6,474" fill="#38dff6"/>
<polygon points="808.9,468.6 810.6,474 810,480.4 810,486.8 808.9,488.9 806.8,494.3 803.6,498.5 802.5,506 800.4,513.5 792.9,518.8 787.6,523.1 780.1,527.4 770.5,534.8 763,540.2 766.2,545.5 764.1,553 759.8,557.3 752.3,550.8 750.2,544.4 743.8,539.1 748.1,533.8 751.3,527.4 752.3,518.8 754.5,512.4 755.5,506 761.9,508.1 772.6,504.9 782.2,502.8 786.5,499.6 787.6,494.3 785.4,486.8 788.6,482.5 794,477.2 799.3,471.8 805.7,472.9" fill="#3bdcf6"/>
</g>
<g font-size="12" fill="#fff" text-anchor="middle"><text x="651.5" y="234.9">沿河土家族自治县</text>
<text x="602.4" y="314.2">德江县</text>
<text x="786.8" y="343.2">松桃苗族自治县</text>
<text x="687.6" y="373">印江土家族苗族自治县</text>
<text x="613.8" y="404.8">思南县</text>
<text x="735.6" y="431.7">江口县</text>
<text x="811" y="443.6">碧江区</text>
<text x="617.5" y="483.5">石阡县</text>
<text x="831.6" y="475.9">万山区</text>
<text x="777.7" y="517.4">玉屏侗族自治县</text></g>
<rect x="925" y="508" width="76" height="11" fill="url(#gleg)"/>
<text x="924.6" y="535.3" text-anchor="middle" font-size="12" fill="#9ba3c0">710</text><text x="988.8" y="535.3" text-anchor="middle" font-size="12" fill="#9ba3c0">3,681</text>
<polygon points="749.9,101.5 756.2,96 797.1,96 802.7,101.2 756.2,101.2 756.2,135.2 749.9,128.4" fill="#5c80bf"/>
<polygon points="749.9,133.4 756.2,141 756.2,148.7 749.9,141" fill="#5c80bf"/><polygon points="749.9,146.4 756.2,154 756.2,156.8 749.9,149.1" fill="#5c80bf"/>
<defs><filter id="blur2" x="-20%" y="-20%" width="140%" height="140%"><feGaussianBlur stdDeviation="1.5"/></filter><clipPath id="tri"><polygon points="999.2,166.6 999.2,194 975,194"/></clipPath></defs>
<polygon points="999.2,166.6 999.2,194 975,194" fill="#6d8cc6"/>
<g clip-path="url(#tri)"><polygon points="997.6,171.5 997.6,192.6 979,192.6" fill="#293a5d" filter="url(#blur2)"/></g>
<line x1="973.3" y1="193.2" x2="998.6" y2="164.4" stroke="#5c80bf" stroke-width="1"/>
</svg>
<div class="abs" style="left:1059.9px;top:411.8px;width:118px;height:118px;border-radius:50%;background:conic-gradient(from 0deg,#4a7fb4 0deg,#4a7fb4 8deg,#6da3c0 187.704deg,#aee9d9 341.28deg,#dddddd 341.29deg,#dddddd 360deg);-webkit-mask:radial-gradient(circle,transparent 46.8px,#000 47.6px,#000 58.7px,transparent 59.5px);mask:radial-gradient(circle,transparent 46.8px,#000 47.6px,#000 58.7px,transparent 59.5px)"></div>
<div class="abs" style="left:1113.1px;top:411.8px;width:11.7px;height:11.7px;border-radius:50%;background:#4a7fb4"></div>
<div class="abs" style="left:1096.0px;top:414.6px;width:11.7px;height:11.7px;border-radius:50%;background:#aee9d9"></div>
<div class="abs gs" style="left:1068.9px;top:463.3px;width:100px;text-align:center;font-size:17.3px;line-height:20px;color:#e3e8f1;transform:scaleX(.96)">9537.0</div>
<div class="abs" style="left:1244.4px;top:411.8px;width:118px;height:118px;border-radius:50%;background:conic-gradient(from 0deg,#4a7fb4 0deg,#4a7fb4 8deg,#6da3c0 107.257deg,#aee9d9 195.012deg,#dddddd 195.022deg,#dddddd 360deg);-webkit-mask:radial-gradient(circle,transparent 46.8px,#000 47.6px,#000 58.7px,transparent 59.5px);mask:radial-gradient(circle,transparent 46.8px,#000 47.6px,#000 58.7px,transparent 59.5px)"></div>
<div class="abs" style="left:1297.6px;top:411.8px;width:11.7px;height:11.7px;border-radius:50%;background:#4a7fb4"></div>
<div class="abs" style="left:1283.8px;top:516.3px;width:11.7px;height:11.7px;border-radius:50%;background:#aee9d9"></div>
<div class="abs gs" style="left:1253.4px;top:463.3px;width:100px;text-align:center;font-size:17.3px;line-height:20px;color:#e3e8f1;transform:scaleX(.96)">5417.0</div>
<div class="kv" style="right:533.8px;top:117.4px;color:#7da8f7;font-size:12px">门急诊处方数</div>
<div class="kv" style="left:875.6px;top:109.5px;color:#e9eef6;font-size:22.6px;line-height:28px">20,898</div>
<div class="kv" style="left:951.5px;top:115.5px;color:#7da8f7;font-size:14px">张</div>
<div class="kv" style="right:533.8px;top:156.3px;color:#7da8f7;font-size:12px">门急诊收入</div>
<div class="kv" style="left:875.6px;top:149px;color:#e9eef6;font-size:22.6px;line-height:28px">9,863</div>
<div class="kv" style="left:951.5px;top:155.5px;color:#7da8f7;font-size:14px">元</div>
</body></html>
